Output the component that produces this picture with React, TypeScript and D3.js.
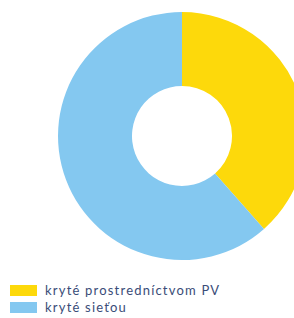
import React, { useRef, useEffect } from 'react';
import * as d3 from 'd3';

const categories = ['kryté prostredníctvom PV', 'kryté sieťou'];
const values = [38.5, 61.5];
const colors = ['#fdd90b', '#84c8f0'];

export default function App() {
  const ref = useRef<SVGSVGElement>(null);
  const width = 294;
  const height = 318;

  useEffect(() => {
    if (!ref.current) return;
    const svg = d3.select(ref.current);
    svg.selectAll('*').remove();

    const cx = 182;
    const cy = 136;
    const outer = 124;
    const inner = 50;

    const pie = d3.pie<number>().sort(null).value(d => d);
    const arc = d3.arc<d3.PieArcDatum<number>>().innerRadius(inner).outerRadius(outer);

    svg.append('g')
      .attr('transform', `translate(${cx},${cy})`)
      .selectAll('path')
      .data(pie(values))
      .join('path')
      .attr('d', arc)
      .attr('fill', (d, i) => colors[i]);

    const legend = svg.append('g').attr('transform', 'translate(10,285)');
    const row = legend.selectAll('g')
      .data(categories)
      .join('g')
      .attr('transform', (d, i) => `translate(0,${i * 17})`);

    row.append('rect')
      .attr('width', 27)
      .attr('height', 11)
      .attr('fill', (d, i) => colors[i]);

    row.append('text')
      .attr('x', 35)
      .attr('y', 10)
      .style('font-family', 'Lato, sans-serif')
      .style('font-size', '13px')
      .style('letter-spacing', '1.2px')
      .attr('fill', '#3a4c78')
      .text(d => d);
  }, []);

  return (
    <svg
      ref={ref}
      width={width}
      height={height}
      style={{ position: 'absolute', left: 0, top: 0, background: '#fff' }}
    />
  );
}
